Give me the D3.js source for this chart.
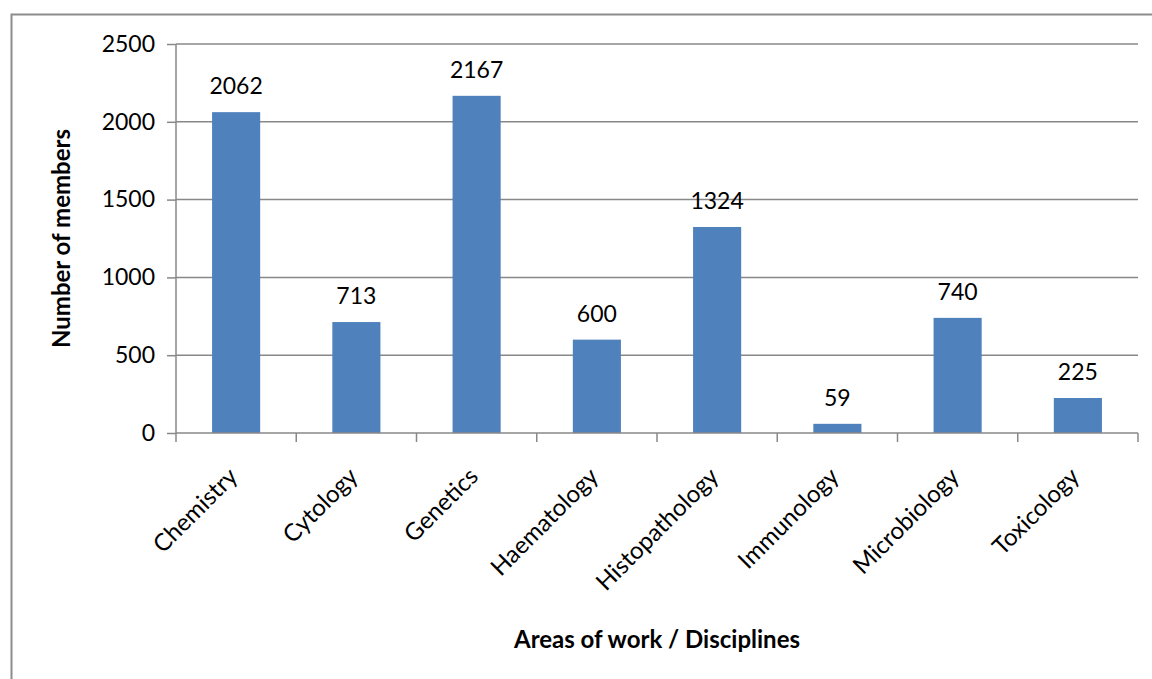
<!DOCTYPE html>
<html><head><meta charset="utf-8">
<script src="https://cdn.jsdelivr.net/npm/d3@7"></script>
<style>body{margin:0;background:#fff;} text{font-family:Lato,"Open Sans",sans-serif;}</style>
</head><body>
<svg id="c" width="1152" height="679"></svg>
<script>
const categories = ["Chemistry","Cytology","Genetics","Haematology","Histopathology","Immunology","Microbiology","Toxicology"];
const values = [2062,713,2167,600,1324,59,740,225];
const yTicks = [0,500,1000,1500,2000,2500];

const svg = d3.select("#c");
const m = {left:176, right:1138, top:44, bottom:433};

svg.append("rect").attr("x",11.5).attr("y",14.5).attr("width",1200).attr("height",800)
  .attr("fill","none").attr("stroke","#8c8c8c").attr("stroke-width",2);

const x = d3.scaleBand().domain(categories).range([m.left,m.right]).paddingInner(0.6).paddingOuter(0.3);
const xb = d3.scaleBand().domain(categories).range([m.left,m.right]);
const y = d3.scaleLinear().domain([0,2500]).range([m.bottom,m.top]);

// gridlines
svg.append("g").selectAll("line").data(yTicks.filter(d=>d>0)).join("line")
  .attr("x1",m.left).attr("x2",m.right).attr("y1",d=>y(d)).attr("y2",d=>y(d))
  .attr("stroke","#888").attr("stroke-width",1.5);

// y axis
const ya = svg.append("g").attr("transform",`translate(${m.left},0)`)
  .call(d3.axisLeft(y).tickValues(yTicks).tickFormat(d3.format("d")).tickSize(9).tickPadding(12));
ya.select(".domain").attr("stroke","#888").attr("stroke-width",1.5).attr("d",`M0,${m.top}V${m.bottom}`);
ya.selectAll(".tick line").attr("stroke","#888").attr("stroke-width",1.5);
ya.selectAll(".tick text").attr("font-size",23).attr("fill","#000").attr("font-family","Lato");

// bars
svg.append("g").selectAll("rect").data(values).join("rect")
  .attr("x",(d,i)=>x(categories[i])).attr("width",x.bandwidth())
  .attr("y",d=>y(d)).attr("height",d=>y(0)-y(d)).attr("fill","#4F81BD");

// x axis
const xa = svg.append("g").attr("transform",`translate(0,${m.bottom})`)
  .call(d3.axisBottom(xb).tickSize(0).tickFormat(""));
xa.select(".domain").attr("stroke","#888").attr("stroke-width",1.5).attr("d",`M${m.left},0H${m.right}`);
const bounds = d3.range(categories.length+1).map(i=>m.left+i*xb.step());
svg.append("g").selectAll("line").data(bounds).join("line")
  .attr("x1",d=>d).attr("x2",d=>d).attr("y1",m.bottom).attr("y2",m.bottom+9)
  .attr("stroke","#888").attr("stroke-width",1.5);

// category labels
svg.append("g").selectAll("text").data(categories).join("text")
  .attr("transform",d=>`translate(${xb(d)+xb.bandwidth()/2+3},${m.bottom+45}) rotate(-45)`)
  .attr("text-anchor","end").attr("font-size",24).text(d=>d);

// value labels
svg.append("g").selectAll("text").data(values).join("text")
  .attr("x",(d,i)=>x(categories[i])+x.bandwidth()/2).attr("y",d=>y(d)-18)
  .attr("text-anchor","middle").attr("font-size",23).text(d=>d);

// axis titles
svg.append("text").attr("transform",`translate(70,${(m.top+m.bottom)/2}) rotate(-90)`)
  .attr("text-anchor","middle").attr("font-size",24).attr("font-weight","bold").text("Number of members");
svg.append("text").attr("x",(m.left+m.right)/2).attr("y",648)
  .attr("text-anchor","middle").attr("font-size",24).attr("font-weight","bold").text("Areas of work / Disciplines");
</script>
</body></html>
